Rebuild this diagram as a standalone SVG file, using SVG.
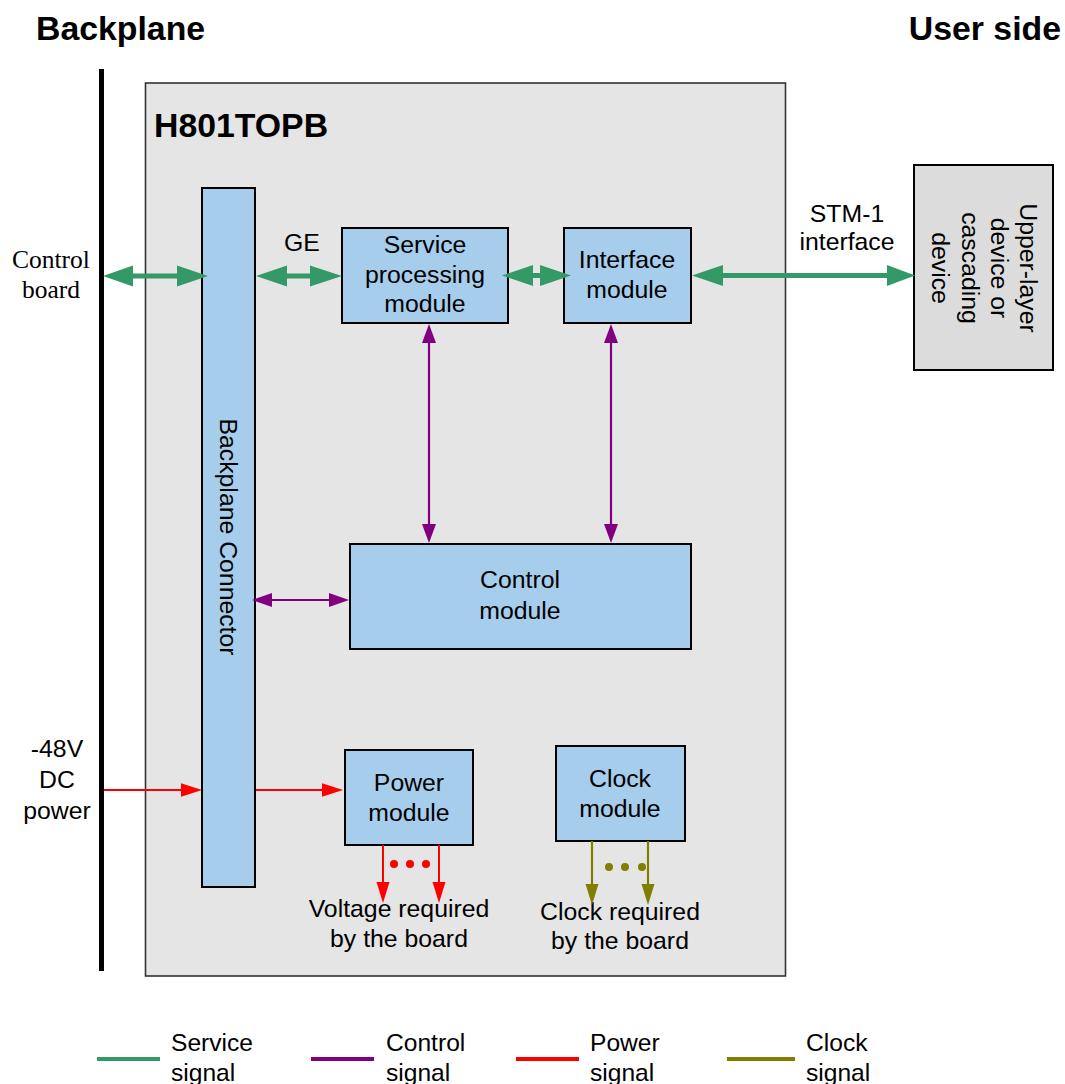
<svg xmlns="http://www.w3.org/2000/svg" width="1065" height="1084" viewBox="0 0 1065 1084">
<style>
.t{font-family:"Liberation Sans",Arial,sans-serif;font-size:24.8px;fill:#000;text-anchor:middle}
.s{font-family:"Liberation Serif","Times New Roman",serif;font-size:25.5px;fill:#000;text-anchor:middle}
.b{font-family:"Liberation Sans",Arial,sans-serif;font-weight:bold;font-size:33.8px;fill:#000}
.l{font-family:"Liberation Sans",Arial,sans-serif;font-size:24.6px;fill:#000}
.m{fill:#a6cdec;stroke:#000;stroke-width:2}
.g{stroke:#339966;stroke-width:5;fill:none}
.p{stroke:#800080;stroke-width:2.2;fill:none}
.r{stroke:#ff0000;stroke-width:2;fill:none}
.o{stroke:#808000;stroke-width:2.2;fill:none}
</style>
<rect width="1065" height="1084" fill="#fff"/>
<text class="b" x="36" y="40">Backplane</text>
<text class="b" x="1061" y="40" text-anchor="end">User side</text>
<line x1="101.5" y1="69" x2="101.5" y2="971" stroke="#000" stroke-width="5"/>
<g id="board">
<rect x="145.5" y="83" width="640" height="893" fill="#e5e5e5" stroke="#333" stroke-width="1.6"/>
<text class="b" x="154" y="137">H801TOPB</text>
</g>
<g id="backplane-connector">
<rect class="m" x="202" y="188" width="53" height="699"/>
<text class="t" transform="translate(220,537) rotate(90)">Backplane Connector</text>
</g>
<g id="service-processing">
<rect class="m" x="342" y="228" width="166" height="95"/>
<text class="t" x="425" y="253">Service</text>
<text class="t" x="425" y="283">processing</text>
<text class="t" x="425" y="312">module</text>
</g>
<g id="interface-module">
<rect class="m" x="564" y="228" width="127" height="95"/>
<text class="t" x="627" y="268">Interface</text>
<text class="t" x="627" y="298">module</text>
</g>
<g id="control-module">
<rect class="m" x="350" y="544" width="341" height="105"/>
<text class="t" x="520" y="588">Control</text>
<text class="t" x="520" y="619">module</text>
</g>
<g id="power-module">
<rect class="m" x="345" y="750" width="128" height="95"/>
<text class="t" x="409" y="791">Power</text>
<text class="t" x="409" y="821">module</text>
</g>
<g id="clock-module">
<rect class="m" x="556" y="746" width="129" height="95"/>
<text class="t" x="620" y="787">Clock</text>
<text class="t" x="620" y="817">module</text>
</g>
<g id="upper-device">
<rect x="914" y="165" width="139" height="205" fill="#dcdcdc" stroke="#000" stroke-width="2"/>
<text class="t" transform="translate(984,268) rotate(90)"><tspan x="0" y="-36">Upper-layer</tspan><tspan x="0" y="-7">device or</tspan><tspan x="0" y="22">cascading</tspan><tspan x="0" y="52">device</tspan></text>
</g>
<g id="labels">
<text class="s" x="51" y="268">Control</text>
<text class="s" x="51" y="298">board</text>
<text class="t" x="302" y="251">GE</text>
<text class="t" x="847" y="222">STM-1</text>
<text class="t" x="847" y="250">interface</text>
<text class="t" x="57" y="757">-48V</text>
<text class="t" x="57" y="788">DC</text>
<text class="t" x="57" y="819">power</text>
<text class="t" x="399" y="917">Voltage required</text>
<text class="t" x="399" y="947">by the board</text>
<text class="t" x="620" y="920">Clock required</text>
<text class="t" x="620" y="949">by the board</text>
</g>
<g id="connectors">
<line class="g" x1="128" y1="276" x2="182" y2="276"/>
<polygon fill="#339966" points="103,276 133,265.5 133,286.5"/>
<polygon fill="#339966" points="208,276 177,265.5 177,286.5"/>
<line class="g" x1="282" y1="276" x2="316" y2="276"/>
<polygon fill="#339966" points="256,276 287,265.5 287,286.5"/>
<polygon fill="#339966" points="342,276 310,265.5 310,286.5"/>
<line class="g" x1="528" y1="275.5" x2="545" y2="275.5" stroke-width="3"/>
<polygon fill="#339966" points="502,275.5 533,265 533,286"/>
<polygon fill="#339966" points="571,275.5 540,265 540,286"/>
<line class="g" x1="718" y1="275.5" x2="890" y2="275.5"/>
<polygon fill="#339966" points="692,275.5 723,265 723,286"/>
<polygon fill="#339966" points="915,275.5 887,265 887,286"/>
<line class="p" x1="429" y1="338" x2="429" y2="530"/>
<polygon fill="#800080" points="429,324 422,343 436,343"/>
<polygon fill="#800080" points="429,543 422,524 436,524"/>
<line class="p" x1="611" y1="338" x2="611" y2="530"/>
<polygon fill="#800080" points="611,324 604,343 618,343"/>
<polygon fill="#800080" points="611,543 604,524 618,524"/>
<line class="p" x1="266" y1="600" x2="335" y2="600"/>
<polygon fill="#800080" points="252,600 272,593 272,607"/>
<polygon fill="#800080" points="349,600 329,593 329,607"/>
<line class="r" x1="104" y1="790" x2="185" y2="790"/>
<polygon fill="#ff0000" points="202,790 181,783.3 181,796.7"/>
<line class="r" x1="256" y1="790" x2="326" y2="790"/>
<polygon fill="#ff0000" points="343,790 322,783.3 322,796.7"/>
<line class="r" x1="383" y1="845" x2="383" y2="886"/>
<polygon fill="#ff0000" points="383,903 376.5,882 389.5,882"/>
<line class="r" x1="439" y1="845" x2="439" y2="886"/>
<polygon fill="#ff0000" points="439,903 432.5,882 445.5,882"/>
<circle cx="394" cy="864" r="4" fill="#ff0000"/>
<circle cx="410" cy="864" r="4" fill="#ff0000"/>
<circle cx="426" cy="864" r="4" fill="#ff0000"/>
<line class="o" x1="592" y1="841" x2="592" y2="888"/>
<polygon fill="#808000" points="592,905 585.5,884 598.5,884"/>
<line class="o" x1="648" y1="841" x2="648" y2="888"/>
<polygon fill="#808000" points="648,905 641.5,884 654.5,884"/>
<circle cx="609" cy="867" r="4" fill="#808000"/>
<circle cx="625" cy="867" r="4" fill="#808000"/>
<circle cx="642" cy="867" r="4" fill="#808000"/>
</g>
<g id="legend">
<line x1="97" y1="1059" x2="160" y2="1059" stroke="#339966" stroke-width="4"/>
<text class="l" x="171" y="1051">Service</text>
<text class="l" x="171" y="1081">signal</text>
<line x1="311" y1="1059" x2="374" y2="1059" stroke="#800080" stroke-width="4"/>
<text class="l" x="386" y="1051">Control</text>
<text class="l" x="386" y="1081">signal</text>
<line x1="516" y1="1059" x2="579" y2="1059" stroke="#ff0000" stroke-width="4"/>
<text class="l" x="590" y="1051">Power</text>
<text class="l" x="590" y="1081">signal</text>
<line x1="727" y1="1059" x2="795" y2="1059" stroke="#808000" stroke-width="4"/>
<text class="l" x="806" y="1051">Clock</text>
<text class="l" x="806" y="1081">signal</text>
</g>
</svg>
